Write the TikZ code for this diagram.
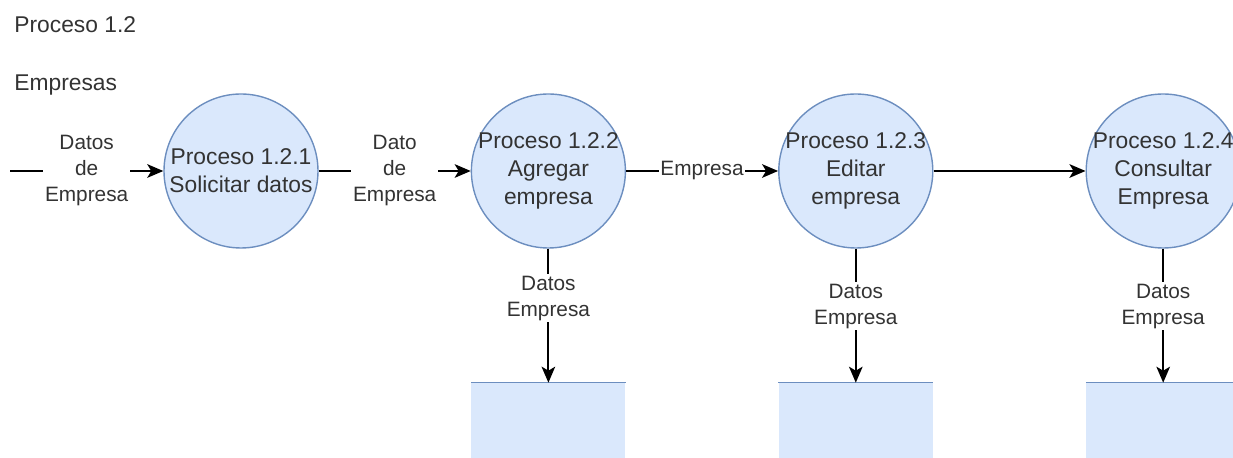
\documentclass[tikz,border=0pt]{standalone}
\usepackage{fontspec}
\setmainfont{Liberation Sans}
\usetikzlibrary{arrows.meta,positioning}
\definecolor{procfill}{HTML}{DAE8FC}
\definecolor{procline}{HTML}{6C8EBF}
\definecolor{txtgray}{HTML}{333333}

\begin{document}
\begin{tikzpicture}[x=0.5pt,y=-0.5pt,
    proc/.style={circle,draw=procline,fill=procfill,line width=0.7pt,minimum size=77pt,inner sep=0pt},
    ptext/.style={align=center,text=txtgray,font=\fontsize{11.4}{14}\selectfont},
    store/.style={fill=procfill,minimum width=77pt,minimum height=60pt,inner sep=0pt,anchor=north},
    flow/.style={line width=1pt,-{Stealth[length=8pt,width=6.8pt,inset=2pt]}},
    lbl/.style={fill=white,inner sep=0.8pt,align=center,text=txtgray,font=\fontsize{10.4}{13}\selectfont},
    title/.style={anchor=base west,inner sep=0pt,text=txtgray,font=\fontsize{11.4}{14}\selectfont},
    node distance=76pt]
       \useasboundingbox (0,0) rectangle (1233,458);
       \clip (0,0) rectangle (1233,458);

       \node[title] (head) at (14,33) {Proceso 1.2};
       \node[title] (sub) at (14,91) {Empresas};

       \coordinate (src) at (10,171);
       \node[proc,label={[ptext]center:Proceso 1.2.1\\Solicitar datos}] (p1) at (241,171) {};
       \node[proc,label={[ptext]center:Proceso 1.2.2\\Agregar\\empresa}] (p2) [right=of p1] {};
       \node[proc,label={[ptext]center:Proceso 1.2.3\\Editar\\empresa}] (p3) [right=of p2] {};
       \node[proc,label={[ptext]center:Proceso 1.2.4\\Consultar\\Empresa}] (p4) [right=of p3] {};

       \node[store] (s2) [below=67pt of p2.south] {};
       \node[store] (s3) [below=67pt of p3.south] {};
       \node[store] (s4) [below=67pt of p4.south] {};
       \foreach \s in {s2,s3,s4}
          \draw [procline,line width=0.7pt] (\s.north west) -- (\s.north east);

       \draw [flow] (src) -- node[lbl] {Datos\\de\\Empresa} (p1);
       \draw [flow] (p1) -- node[lbl] {Dato\\de\\Empresa} (p2);
       \draw [flow] (p2) -- node[lbl] {Empresa} (p3);
       \draw [flow] (p3) -- (p4);

       \draw [flow] (p2) -- node[lbl,pos=0.37] {Datos\\Empresa} (s2.north);
       \draw [flow] (p3) -- node[lbl,pos=0.43] {Datos\\Empresa} (s3.north);
       \draw [flow] (p4) -- node[lbl,pos=0.43] {Datos\\Empresa} (s4.north);
    \end{tikzpicture}
\end{document}
